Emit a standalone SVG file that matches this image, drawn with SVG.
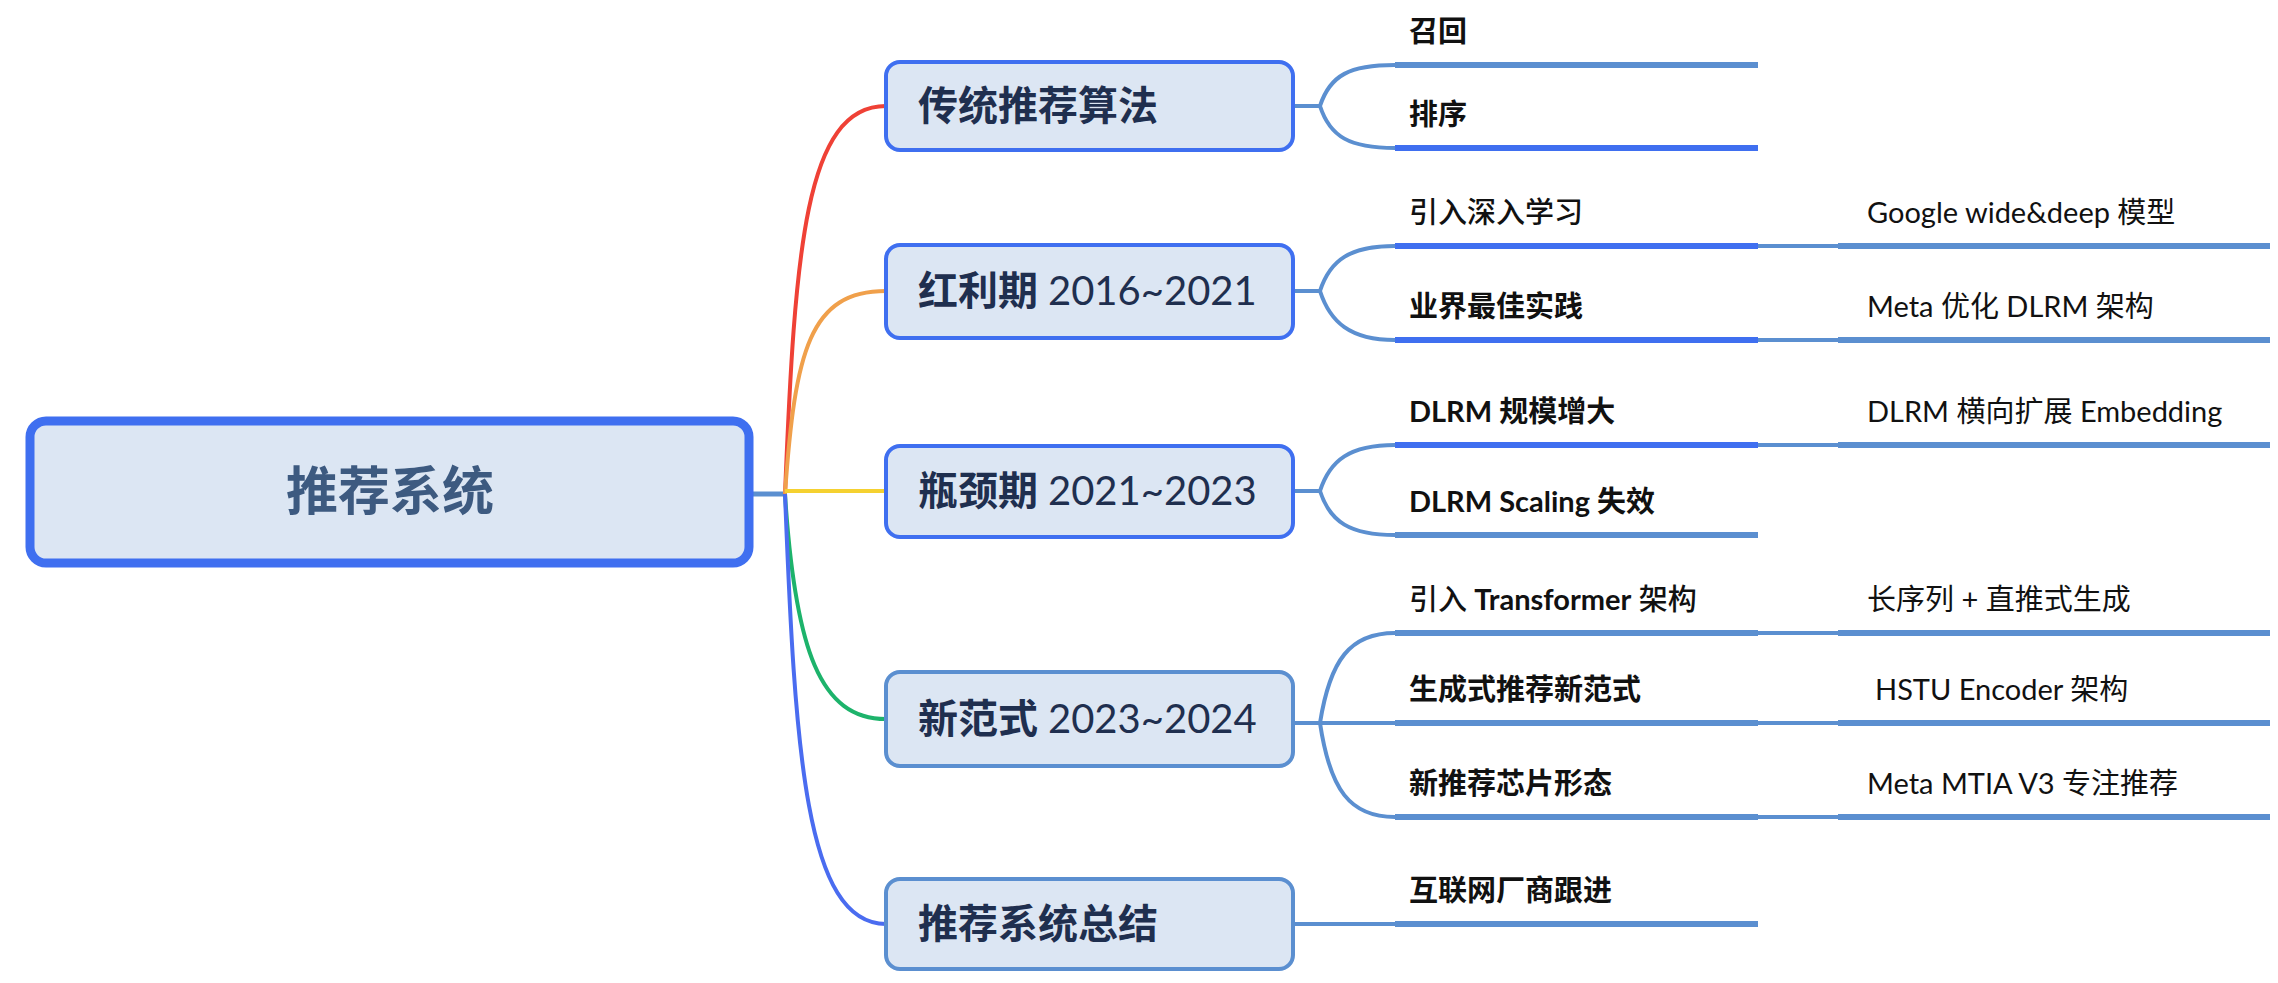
<svg xmlns="http://www.w3.org/2000/svg" width="2278" height="983" viewBox="0 0 2278 983">
<style>
.l1{fill:#dce6f3;stroke-width:4}
.b{stroke:#3f6ff0}.s{stroke:#5b8fd0}
.t1{font-family:"Lato","Noto Sans CJK SC",sans-serif;font-size:40px;fill:#1f2f4f;font-weight:600}
.t2{font-family:"Lato","Noto Sans CJK SC",sans-serif;font-size:29px;fill:#111;font-weight:700}
.t2m{font-family:"Lato","Noto Sans CJK SC",sans-serif;font-size:29px;fill:#111;font-weight:500}
.t3{font-family:"Lato","Noto Sans CJK SC",sans-serif;font-size:29px;fill:#111}
.c{fill:none;stroke-width:4}
.u{fill:none;stroke-width:6}
.thin{fill:none;stroke:#5b8fd0;stroke-width:4}
</style>
<g id="connectors">
<path d="M753,494 H785" stroke="#5b8fd0" stroke-width="5"/>
<path class="c" stroke="#ef4136" d="M785,494 C795,250 805,106 886,106"/>
<path class="c" stroke="#f0a04b" d="M785,494 C795,350 810,291 886,291"/>
<path class="c" stroke="#f5d130" d="M785,494 H886" transform="translate(0,-3)"/>
<path class="c" stroke="#1db36b" d="M785,494 C795,650 820,719 886,719"/>
<path class="c" stroke="#4a6cf0" d="M785,494 C795,750 805,924 886,924"/>
<g class="thin">
<path d="M1293,106 H1320 C1330,75 1350,65 1395,65 M1320,106 C1330,137 1350,148 1395,148"/>
<path d="M1293,291 H1320 C1330,260 1350,246 1395,246 M1320,291 C1330,322 1350,340 1395,340"/>
<path d="M1293,491 H1320 C1330,460 1350,445 1395,445 M1320,491 C1330,522 1350,535 1395,535"/>
<path d="M1293,723 H1395 M1320,723 C1330,660 1350,633 1395,633 M1320,723 C1330,790 1350,817 1395,817"/>
<path d="M1293,924 H1395"/>
<path d="M1758,246 H1838 M1758,340 H1838 M1758,445 H1838 M1758,633 H1838 M1758,723 H1838 M1758,817 H1838"/>
</g>
</g>
<g id="root">
<rect x="30" y="421" width="719" height="142" rx="16" fill="#dce6f3" stroke="#3f6ff0" stroke-width="9"/>
<text x="390" y="510" text-anchor="middle" font-family="Noto Sans CJK SC,sans-serif" font-size="52" font-weight="600" fill="#3d5a80">推荐系统</text>
</g>
<g id="n1"><rect class="l1 b" x="886" y="62" width="407" height="88" rx="14"/><text class="t1" x="918" y="120">传统推荐算法</text></g>
<g id="n2"><rect class="l1 b" x="886" y="245" width="407" height="93" rx="14"/><text class="t1" x="918" y="305">红利期 <tspan font-weight="400">2016~2021</tspan></text></g>
<g id="n3"><rect class="l1 b" x="886" y="446" width="407" height="91" rx="14"/><text class="t1" x="918" y="505">瓶颈期 <tspan font-weight="400">2021~2023</tspan></text></g>
<g id="n4"><rect class="l1 s" x="886" y="672" width="407" height="94" rx="14"/><text class="t1" x="918" y="733">新范式 <tspan font-weight="400">2023~2024</tspan></text></g>
<g id="n5"><rect class="l1 s" x="886" y="879" width="407" height="90" rx="14"/><text class="t1" x="918" y="938">推荐系统总结</text></g>
<g id="l2">
<g id="a1"><text class="t2" x="1409" y="42">召回</text><path class="u s" d="M1395,65 H1758"/></g>
<g id="a2"><text class="t2" x="1409" y="125">排序</text><path class="u b" d="M1395,148 H1758"/></g>
<g id="a3"><text class="t2m" x="1409" y="223">引入深入学习</text><path class="u b" d="M1395,246 H1758"/></g>
<g id="a4"><text class="t2" x="1409" y="317">业界最佳实践</text><path class="u b" d="M1395,340 H1758"/></g>
<g id="a5"><text class="t2" x="1409" y="422">DLRM 规模增大</text><path class="u b" d="M1395,445 H1758"/></g>
<g id="a6"><text class="t2" x="1409" y="512">DLRM Scaling 失效</text><path class="u s" d="M1395,535 H1758"/></g>
<g id="a7"><text class="t2m" x="1409" y="610">引入 <tspan font-weight="700">Transformer</tspan> 架构</text><path class="u s" d="M1395,633 H1758"/></g>
<g id="a8"><text class="t2" x="1409" y="700">生成式推荐新范式</text><path class="u s" d="M1395,723 H1758"/></g>
<g id="a9"><text class="t2" x="1409" y="794">新推荐芯片形态</text><path class="u s" d="M1395,817 H1758"/></g>
<g id="a10"><text class="t2" x="1409" y="901">互联网厂商跟进</text><path class="u s" d="M1395,924 H1758"/></g>
</g>
<g id="l3">
<g id="b1"><text class="t3" x="1867" y="223">Google wide&amp;deep 模型</text><path class="u s" d="M1838,246 H2270"/></g>
<g id="b2"><text class="t3" x="1867" y="317">Meta 优化 DLRM 架构</text><path class="u s" d="M1838,340 H2270"/></g>
<g id="b3"><text class="t3" x="1867" y="422">DLRM 横向扩展 Embedding</text><path class="u s" d="M1838,445 H2270"/></g>
<g id="b4"><text class="t3" x="1867" y="610">长序列 + 直推式生成</text><path class="u s" d="M1838,633 H2270"/></g>
<g id="b5"><text class="t3" x="1875" y="700">HSTU Encoder 架构</text><path class="u s" d="M1838,723 H2270"/></g>
<g id="b6"><text class="t3" x="1867" y="794">Meta MTIA V3 专注推荐</text><path class="u s" d="M1838,817 H2270"/></g>
</g>
</svg>
